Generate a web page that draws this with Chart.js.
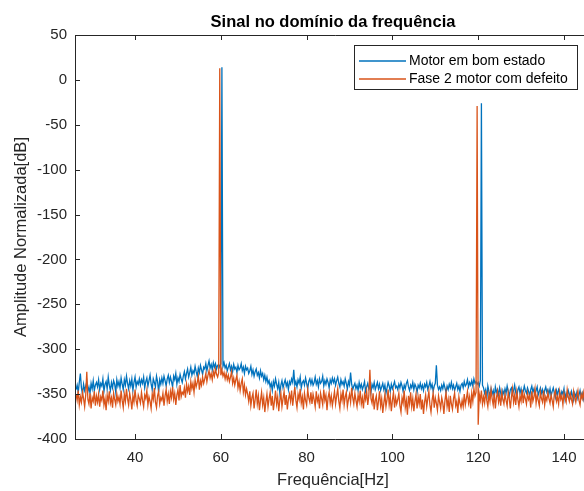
<!DOCTYPE html>
<html>
<head>
<meta charset="utf-8">
<script src="https://cdn.jsdelivr.net/npm/chart.js@4/dist/chart.umd.min.js"></script>
<style>
  html, body { margin: 0; padding: 0; background: #fff; overflow: hidden; width: 584px; height: 491px; }
  #wrap { position: relative; width: 600px; height: 491px; }
</style>
</head>
<body>
<div id="wrap"><canvas id="c" width="600" height="491"></canvas></div>
<script>
// Spectrum bins (Hz): 0.25 Hz resolution starting at 26.25 Hz
const binStart = 26.25;
const binWidth = 0.25;
const binCount = 481;

// Normalised amplitude (dB), healthy motor (one row = 5 Hz)
const healthyDb = [
  -345,-340,-348,-337,-327,-343,-350,-339,-346,-341,-336,-347,-342,-349,-338,-344,-335,-346,-340,-337,
  -342,-334,-345,-338,-341,-333,-347,-339,-336,-344,-331,-340,-346,-337,-343,-335,-339,-348,-334,-341,
  -336,-343,-332,-339,-345,-334,-340,-330,-338,-344,-335,-341,-333,-346,-337,-331,-342,-336,-339,-333,
  -340,-334,-338,-331,-343,-336,-332,-341,-335,-329,-339,-345,-333,-337,-342,-330,-336,-348,-334,-339,
  -332,-338,-330,-335,-341,-333,-329,-337,-331,-336,-342,-330,-334,-327,-339,-332,-336,-328,-333,-337,
  -330,-325,-333,-327,-322,-331,-326,-320,-329,-324,-327,-319,-325,-330,-321,-326,-318,-323,-328,-320,
  -322,-316,-324,-318,-313,-321,-317,-323,-315,-320,-316,-322,-318,-317,-320,-316,  14,-319,-315,-321,
  -318,-324,-320,-316,-323,-319,-325,-317,-322,-320,-326,-318,-323,-321,-316,-324,-320,-327,-319,-323,
  -321,-327,-324,-319,-328,-323,-330,-325,-322,-329,-326,-332,-324,-330,-327,-334,-329,-336,-331,-338,
  -335,-342,-338,-346,-336,-341,-333,-339,-344,-337,-349,-340,-335,-343,-338,-334,-341,-337,-345,-336,
  -339,-333,-337,-323,-340,-336,-342,-334,-338,-331,-343,-337,-335,-340,-332,-338,-344,-336,-333,-339,
  -334,-340,-337,-331,-339,-335,-342,-333,-338,-336,-330,-341,-335,-339,-333,-337,-343,-334,-338,-332,
  -337,-333,-340,-335,-331,-338,-342,-334,-339,-336,-341,-333,-338,-344,-336,-340,-326,-339,-345,-341,
  -338,-344,-340,-346,-337,-343,-339,-345,-341,-336,-347,-342,-338,-344,-340,-348,-339,-343,-337,-345,
  -341,-337,-344,-339,-346,-342,-338,-345,-340,-349,-343,-337,-341,-347,-339,-344,-340,-336,-343,-341,
  -345,-339,-343,-337,-341,-347,-340,-344,-338,-335,-342,-346,-340,-343,-337,-345,-339,-342,-348,-340,
  -343,-338,-344,-340,-346,-339,-342,-337,-345,-341,-336,-343,-339,-347,-341,-338,-318,-340,-345,-342,
  -346,-340,-344,-338,-343,-348,-341,-345,-339,-343,-337,-344,-340,-346,-342,-338,-345,-341,-347,-340,
  -338,-343,-336,-341,-339,-334,-342,-337,-340,-335,-341,-333,-338,-336,-339,-337,-341,-335, -26,-340,
  -343,-349,-345,-356,-341,-347,-352,-344,-350,-346,-354,-342,-348,-345,-351,-343,-349,-355,-346,-350,
  -344,-349,-341,-347,-352,-345,-343,-350,-346,-340,-348,-353,-345,-342,-349,-344,-351,-347,-341,-346,
  -349,-343,-347,-352,-345,-341,-348,-344,-350,-346,-342,-351,-347,-343,-349,-345,-353,-346,-342,-348,
  -345,-350,-344,-352,-347,-343,-349,-354,-346,-351,-345,-348,-353,-347,-350,-344,-356,-349,-352,-346,
  -350,-354,-347,-352,-357,-349,-353,-348,-355,-351,-346,-353,-349,-356,-351,-347,-354,-350,-357,-352,
  -349
];

// Normalised amplitude (dB), motor with phase-2 fault (one row = 5 Hz)
const faultyDb = [
  -350,-357,-346,-362,-353,-359,-348,-355,-364,-351,-325,-356,-361,-349,-366,-354,-358,-347,-363,-352,
  -359,-350,-364,-353,-357,-346,-362,-355,-368,-351,-358,-347,-360,-354,-365,-349,-356,-362,-350,-358,
  -353,-361,-346,-357,-365,-350,-358,-344,-355,-362,-349,-356,-367,-352,-359,-345,-357,-363,-351,-355,
  -360,-348,-357,-364,-351,-355,-346,-362,-353,-358,-366,-350,-356,-343,-359,-365,-352,-347,-361,-354,
  -357,-349,-363,-352,-345,-358,-350,-361,-347,-354,-342,-356,-349,-362,-351,-345,-357,-340,-353,-348,
  -350,-343,-354,-339,-347,-341,-351,-336,-344,-338,-348,-334,-342,-337,-330,-345,-335,-340,-331,-338,
  -333,-327,-336,-329,-324,-332,-327,-334,-325,-330,-322,-328,-331,-326,  13,-329,-323,-330,-326,-333,
  -327,-334,-329,-336,-331,-325,-338,-332,-340,-334,-329,-343,-336,-346,-338,-333,-348,-340,-351,-344,
  -350,-358,-347,-363,-354,-349,-366,-356,-345,-361,-352,-368,-357,-348,-362,-354,-370,-359,-350,-364,
  -355,-348,-363,-352,-368,-358,-346,-361,-353,-369,-357,-349,-364,-355,-347,-362,-351,-367,-356,-350,
  -358,-346,-363,-352,-342,-357,-365,-350,-356,-344,-360,-353,-367,-349,-357,-362,-345,-354,-359,-348,
  -361,-350,-356,-364,-347,-358,-353,-366,-349,-355,-362,-345,-357,-351,-368,-354,-348,-360,-352,-363,
  -355,-347,-361,-352,-344,-358,-366,-350,-357,-345,-362,-353,-348,-364,-356,-350,-359,-343,-354,-361,
  -349,-357,-364,-351,-358,-346,-361,-354,-366,-350,-356,-347,-362,-352,-323,-355,-360,-349,-367,-357,
  -352,-368,-358,-347,-363,-355,-371,-360,-350,-364,-356,-345,-362,-353,-369,-357,-348,-365,-354,-361,
  -356,-349,-363,-370,-354,-360,-346,-365,-357,-373,-352,-361,-348,-364,-355,-369,-358,-350,-366,-353,
  -361,-350,-367,-356,-372,-359,-351,-364,-355,-347,-362,-370,-357,-349,-365,-354,-360,-368,-352,-359,
  -366,-354,-360,-372,-357,-348,-364,-356,-370,-352,-361,-367,-355,-349,-363,-358,-371,-353,-360,-365,
  -357,-364,-350,-362,-355,-347,-360,-353,-366,-349,-358,-344,-352,-348, -29,-384,-350,-357,-346,-361,
  -353,-360,-346,-357,-364,-350,-358,-345,-355,-362,-349,-366,-354,-347,-359,-352,-363,-348,-356,-361,
  -350,-357,-363,-348,-355,-366,-353,-344,-359,-351,-362,-347,-356,-364,-352,-358,-345,-360,-350,-355,
  -361,-349,-356,-352,-365,-347,-358,-353,-344,-360,-351,-357,-363,-348,-355,-359,-346,-362,-353,-357,
  -348,-355,-360,-351,-357,-364,-350,-346,-358,-353,-361,-347,-356,-352,-362,-349,-355,-359,-345,-353,
  -358,-350,-356,-361,-347,-354,-359,-352,-346,-357,-362,-350,-355,-348,-358,-353,-345,-356,-351,-349,
  -352
];

const seriesNames = ['Motor em bom estado', 'Fase 2 motor com defeito'];
const xTickValues = [40, 60, 80, 100, 120, 140];
const yTickValues = [-400, -350, -300, -250, -200, -150, -100, -50, 0, 50];

const freqs = [];
for (let i = 0; i < binCount; i++) freqs.push(binStart + i * binWidth);
const toPoints = vals => vals.map((v, i) => ({ x: freqs[i], y: v }));

const BLUE = '#0072BD';
const ORANGE = '#D95319';
const AXIS = '#262626';
const FONT = '"Liberation Sans", Arial, sans-serif';

// Box, inward ticks, title, axis titles and legend in MATLAB style
const matlabAxes = {
  id: 'matlabAxes',
  afterDatasetsDraw(chart) {
    const { ctx, chartArea: a, scales: { x, y } } = chart;
    ctx.save();
    ctx.strokeStyle = AXIS;
    ctx.lineWidth = 1;
    ctx.beginPath();
    ctx.moveTo(a.right + 5, Math.round(a.top) + 0.5);
    ctx.lineTo(Math.round(a.left) + 0.5, Math.round(a.top) + 0.5);
    ctx.lineTo(Math.round(a.left) + 0.5, Math.round(a.bottom) + 0.5);
    ctx.lineTo(a.right + 5, Math.round(a.bottom) + 0.5);
    ctx.stroke();
    const tl = 5;
    ctx.beginPath();
    xTickValues.forEach(v => {
      const px = Math.round(x.getPixelForValue(v)) + 0.5;
      ctx.moveTo(px, a.bottom); ctx.lineTo(px, a.bottom - tl);
      ctx.moveTo(px, a.top); ctx.lineTo(px, a.top + tl);
    });
    yTickValues.forEach(v => {
      const py = Math.round(y.getPixelForValue(v)) + 0.5;
      ctx.moveTo(a.left, py); ctx.lineTo(a.left + tl, py);
    });
    ctx.stroke();

    // title
    ctx.fillStyle = '#000';
    ctx.font = 'bold 16.5px ' + FONT;
    ctx.textAlign = 'center';
    ctx.textBaseline = 'middle';
    ctx.fillText('Sinal no domínio da frequência', (a.left + a.right) / 2, 22);

    // axis titles
    ctx.fillStyle = AXIS;
    ctx.font = '16.5px ' + FONT;
    ctx.fillText('Frequência[Hz]', (a.left + a.right) / 2, 480);
    ctx.save();
    ctx.translate(21, (a.top + a.bottom) / 2);
    ctx.rotate(-Math.PI / 2);
    ctx.fillText('Amplitude Normalizada[dB]', 0, 0);
    ctx.restore();

    // legend
    const lx = 354, ly = 45, lw = 223, lh = 44;
    ctx.fillStyle = '#fff';
    ctx.fillRect(lx, ly, lw, lh);
    ctx.strokeStyle = AXIS;
    ctx.strokeRect(lx + 0.5, ly + 0.5, lw, lh);
    const rows = [61, 79];
    chart.data.datasets.forEach((ds, i) => {
      ctx.strokeStyle = ds.borderColor;
      ctx.lineWidth = 1.3;
      ctx.beginPath();
      ctx.moveTo(359, rows[i]); ctx.lineTo(406, rows[i]);
      ctx.stroke();
      ctx.fillStyle = '#000';
      ctx.font = '14px ' + FONT;
      ctx.textAlign = 'left';
      ctx.fillText(ds.label, 409, rows[i] + 0.5);
    });
    ctx.restore();
  }
};

new Chart(document.getElementById('c'), {
  type: 'line',
  data: {
    datasets: [
      { label: seriesNames[0], data: toPoints(healthyDb), borderColor: BLUE, borderWidth: 1.3, pointRadius: 0, tension: 0, order: 1 },
      { label: seriesNames[1], data: toPoints(faultyDb), borderColor: ORANGE, borderWidth: 1.3, pointRadius: 0, tension: 0, order: 0 }
    ]
  },
  options: {
    responsive: false,
    animation: false,
    events: [],
    layout: { padding: { top: 35, right: 9, left: 0, bottom: 0 } },
    plugins: { legend: { display: false }, title: { display: false }, tooltip: { enabled: false } },
    scales: {
      x: {
        type: 'linear', min: 26, max: 146.3,
        grid: { display: false, drawTicks: false },
        border: { display: false },
        afterBuildTicks: s => { s.ticks = xTickValues.map(v => ({ value: v })); },
        afterFit: s => { s.height = 52; },
        ticks: { color: AXIS, font: { family: FONT, size: 15 }, padding: 10, maxRotation: 0, autoSkip: false }
      },
      y: {
        type: 'linear', min: -400, max: 50,
        grid: { display: false, drawTicks: false },
        border: { display: false },
        afterBuildTicks: s => { s.ticks = yTickValues.map(v => ({ value: v })); },
        afterFit: s => { s.width = 75; },
        ticks: { color: AXIS, font: { family: FONT, size: 15 }, padding: 8, autoSkip: false }
      }
    }
  },
  plugins: [matlabAxes]
});
</script>
</body>
</html>
